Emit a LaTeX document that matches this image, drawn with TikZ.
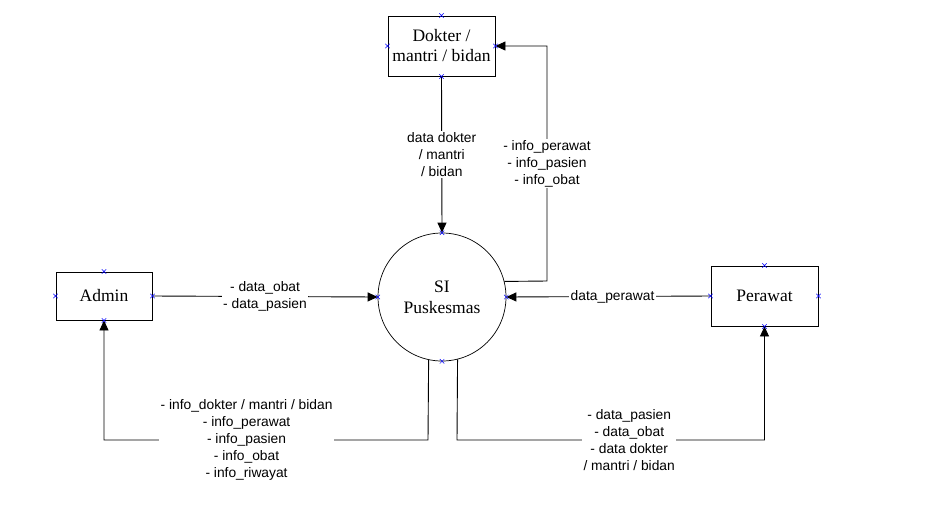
\documentclass[tikz,border=0pt]{standalone}
\usepackage{fontspec}
\setmainfont{Liberation Serif}
\newfontfamily\lblfont{Liberation Sans}
\usetikzlibrary{arrows.meta}
\begin{document}
\begin{tikzpicture}[x=1pt,y=-1pt,
  ent/.style={draw, line width=0.9pt, rectangle, align=center, inner sep=0pt,
    font=\fontsize{17.5}{20}\selectfont},
  proc/.style={draw, line width=0.7pt, circle, align=center, inner sep=0pt,
    minimum size=128pt, font=\fontsize{17.5}{21}\selectfont},
  flow/.style={line width=0.9pt, -{Triangle[length=10pt,width=9pt]}},
  lbl/.style={fill=white, align=center, inner sep=1.5pt,
    font=\lblfont\fontsize{13.8}{17}\selectfont},
  xm/.style={draw=blue, line width=0.5pt}
]
\useasboundingbox (0,0) rectangle (926,504);
\node[ent, minimum width=107pt, minimum height=60pt] (dok) at (441.5,46) {Dokter /\\mantri / bidan};
\node[ent, minimum width=96pt, minimum height=48pt] (adm) at (104,296) {Admin};
\node[ent, minimum width=107pt, minimum height=60pt] (per) at (764.5,296) {Perawat};
\node[proc] (si) at (442,297) {SI\\Puskesmas};

\coordinate (b1) at (547,281);
\coordinate (b2) at (547,46);
\coordinate (b3) at (428,440);
\coordinate (b4) at (104,440);
\coordinate (b5) at (457,440);
\coordinate (b6) at (764.5,440);

\draw[flow] (dok.south) -- node[lbl] {data dokter\\/ mantri\\/ bidan} (si.north);
\draw[flow] (si.14.5) -- (b1) -- node[lbl, pos=0.5] {- info\_perawat\\- info\_pasien\\- info\_obat} (b2) -- (dok.east);
\draw[flow] (adm.east) -- node[lbl] {- data\_obat\\- data\_pasien} (si.west);
\draw[flow] (per.west) -- node[lbl, pos=0.48] {data\_perawat} (si.east);
\draw[flow] (si.-102.6) -- (b3) -- node[lbl, pos=0.56] {- info\_dokter / mantri / bidan\\- info\_perawat\\- info\_pasien\\- info\_obat\\- info\_riwayat} (b4) -- (adm.south);
\draw[flow] (si.-76.4) -- (b5) -- node[lbl, pos=0.56] {- data\_pasien\\- data\_obat\\- data dokter\\/ mantri / bidan} (b6) -- (per.south);

\foreach \p in {dok.north,dok.south,dok.east,dok.west,
                adm.north,adm.south,adm.east,adm.west,
                per.north,per.south,per.east,per.west,
                si.north,si.south,si.east,si.west}
  \draw[xm] (\p) +(-2.2,-2.2) -- +(2.2,2.2) +(-2.2,2.2) -- +(2.2,-2.2);
\end{tikzpicture}
\end{document}
